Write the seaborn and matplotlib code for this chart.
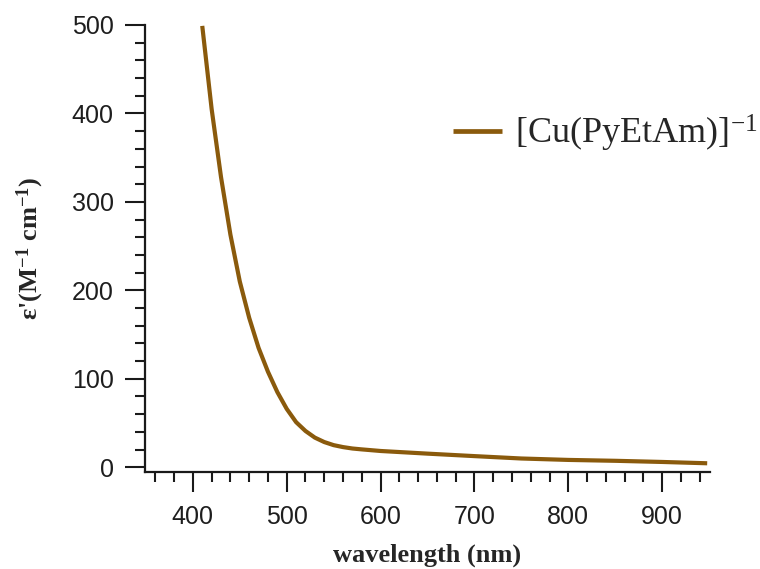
import numpy as np
import pandas as pd
import matplotlib
matplotlib.use("Agg")
import matplotlib.pyplot as plt
from matplotlib.ticker import MultipleLocator
import seaborn as sns

# Absorption spectrum of [Cu(PyEtAm)]^-1
wavelength_nm = [410, 420, 430, 440, 450, 460, 470, 480, 490, 500,
                 510, 520, 530, 540, 550, 560, 570, 580, 600, 650,
                 700, 750, 800, 850, 900, 948]
epsilon = [499, 405, 328, 263, 210, 169, 135, 108, 85, 66,
           51, 41, 33.5, 28.5, 25, 22.8, 21.2, 20.2, 18.4, 15.4,
           12.6, 9.9, 8.3, 7.3, 6.0, 4.5]
series_label = "[Cu(PyEtAm)]$^{-1}$"

x_major_ticks = [400, 500, 600, 700, 800, 900]
y_major_ticks = [0, 100, 200, 300, 400, 500]

df = pd.DataFrame({"wavelength": wavelength_nm, "eps": epsilon})

sns.set_style("ticks")
plt.rcParams["font.family"] = ["Liberation Sans", "DejaVu Sans"]
plt.rcParams["mathtext.fontset"] = "custom"
plt.rcParams["mathtext.rm"] = "Liberation Serif"
plt.rcParams["mathtext.bf"] = "Liberation Serif:bold"
plt.rcParams["mathtext.it"] = "Liberation Serif:italic"

fig = plt.figure(figsize=(7.6, 5.69), dpi=100)
ax = fig.add_axes([145 / 760, 1 - 472.3 / 569, 565 / 760, 447.3 / 569])

line_color = "#8a5a0c"
sns.lineplot(data=df, x="wavelength", y="eps", ax=ax, color=line_color,
             linewidth=3.0, label=series_label, legend=False)
ax.lines[0].set_solid_capstyle("butt")
ax.lines[0].set_solid_joinstyle("round")

ax.set_xlim(349, 951)
ax.set_ylim(-5.7, 500)
ax.set_xticks(x_major_ticks)
ax.set_yticks(y_major_ticks)
ax.xaxis.set_minor_locator(MultipleLocator(20))
ax.yaxis.set_minor_locator(MultipleLocator(20))

for side in ("top", "right"):
    ax.spines[side].set_visible(False)
for side in ("left", "bottom"):
    ax.spines[side].set_linewidth(1.6)
    ax.spines[side].set_color("#1a1a1a")

ax.tick_params(axis="both", which="major", length=14.5, width=1.5,
               color="#1a1a1a", labelsize=18, labelcolor="#1e1e1e")
ax.tick_params(axis="both", which="minor", length=7.5, width=1.5,
               color="#1a1a1a")
ax.tick_params(axis="x", which="major", pad=9)
ax.tick_params(axis="y", which="major", pad=8)

label_font = dict(family="Liberation Serif", weight="bold", size=19)
ax.set_xlabel("wavelength (nm)", **label_font)
ax.set_ylabel("ε'(M$^{\\mathbf{-1}}$ cm$^{\\mathbf{-1}}$)", **label_font)
ax.xaxis.label.set_va("center")
ax.yaxis.label.set_va("center")
ax.xaxis.set_label_coords(0.5, (472.3 - 555) / 447.3)
ax.yaxis.set_label_coords((30 - 145) / 565, 0.5)

leg = ax.legend(loc="center left", bbox_to_anchor=(453 / 760, 1 - 133 / 569),
                bbox_transform=fig.transFigure, frameon=False,
                prop=dict(family="Liberation Serif", size=26),
                handlelength=1.36, handletextpad=0.35, borderpad=0,
                borderaxespad=0)
for h in leg.get_lines():
    h.set_linewidth(3.4)

fig.savefig("out.png", dpi=100)
